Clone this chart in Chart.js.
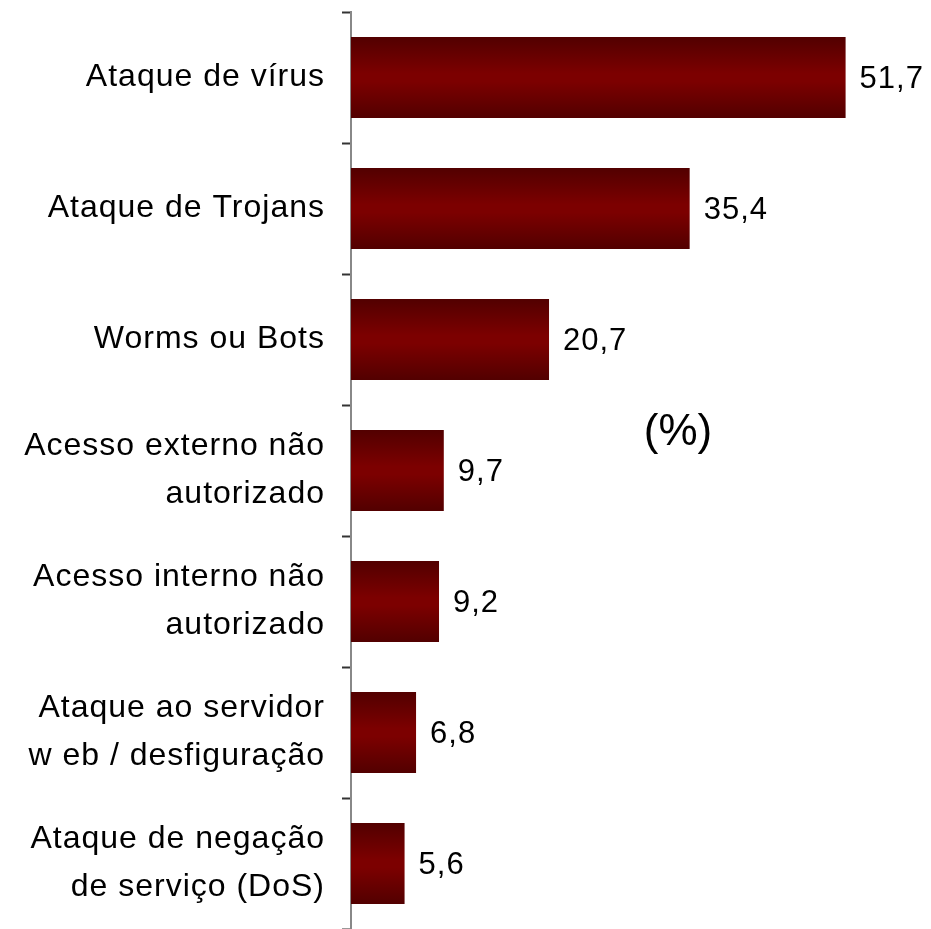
<!DOCTYPE html>
<html>
<head>
<meta charset="utf-8">
<script src="https://cdn.jsdelivr.net/npm/chart.js@4/dist/chart.umd.min.js"></script>
<style>
  html, body { margin: 0; padding: 0; background: #fff; }
  #wrap { width: 931px; height: 929px; }
</style>
</head>
<body>
<div id="wrap"><canvas id="chart"></canvas></div>
<script>
// data
const categories = [
  'Ataque de vírus',
  'Ataque de Trojans',
  'Worms ou Bots',
  ['Acesso externo não', 'autorizado'],
  ['Acesso interno não', 'autorizado'],
  ['Ataque ao servidor', 'w eb / desfiguração'],
  ['Ataque de negação', 'de serviço (DoS)']
];
const values = [51.7, 35.4, 20.7, 9.7, 9.2, 6.8, 5.6];
const unitLabel = '(%)';

const FONT = '"Liberation Sans", Arial, Helvetica, sans-serif';

// slightly spaced lettering like the original
const spacing = {
  id: 'spacing',
  beforeUpdate(chart) { chart.ctx.letterSpacing = '1px'; },
  beforeDraw(chart) { chart.ctx.letterSpacing = '1px'; }
};

// vertical dark-red gradient on each bar
const barGradient = {
  id: 'barGradient',
  beforeDatasetsDraw(chart) {
    const ctx = chart.ctx;
    chart.getDatasetMeta(0).data.forEach(bar => {
      const top = bar.y - bar.height / 2;
      const g = ctx.createLinearGradient(0, top, 0, top + bar.height);
      g.addColorStop(0, '#520000');
      g.addColorStop(0.45, '#7c0000');
      g.addColorStop(0.55, '#7c0000');
      g.addColorStop(1, '#520000');
      bar.options.backgroundColor = g;
    });
  }
};

// value labels + "(%)"
const valueLabels = {
  id: 'valueLabels',
  afterDatasetsDraw(chart) {
    const ctx = chart.ctx;
    ctx.save();
    ctx.fillStyle = '#000';
    ctx.font = '31px ' + FONT;
    ctx.textAlign = 'left';
    ctx.textBaseline = 'middle';
    chart.getDatasetMeta(0).data.forEach((bar, i) => {
      ctx.fillText(values[i].toFixed(1).replace('.', ','), bar.x + 14, bar.y + 2);
    });
    ctx.letterSpacing = '0px';
    ctx.font = '44px ' + FONT;
    ctx.textAlign = 'center';
    ctx.fillText(unitLabel, 678, 433);
    ctx.restore();
  }
};

new Chart(document.getElementById('chart'), {
  type: 'bar',
  data: {
    labels: categories,
    datasets: [{
      data: values,
      backgroundColor: () => '#6a0000',
      borderWidth: 0,
      categoryPercentage: 1,
      barPercentage: 0.62
    }]
  },
  options: {
    indexAxis: 'y',
    responsive: true,
    maintainAspectRatio: false,
    animation: false,
    layout: { padding: { top: 12, right: 6, bottom: 0, left: 0 } },
    plugins: { legend: { display: false }, tooltip: { enabled: false } },
    scales: {
      x: {
        display: false,
        min: 0,
        max: 60
      },
      y: {
        afterFit(scale) {
          scale.width = 351;
          scale.paddingTop = 0;
          scale.paddingBottom = 0;
        },
        grid: {
          drawOnChartArea: false,
          drawTicks: true,
          tickLength: 9,
          tickWidth: 2,
          color: '#333'
        },
        border: { color: '#888', width: 2 },
        ticks: {
          color: '#000',
          padding: 17,
          font: { family: FONT, size: 32, lineHeight: 1.5 }
        }
      }
    }
  },
  plugins: [spacing, barGradient, valueLabels]
});
</script>
</body>
</html>
